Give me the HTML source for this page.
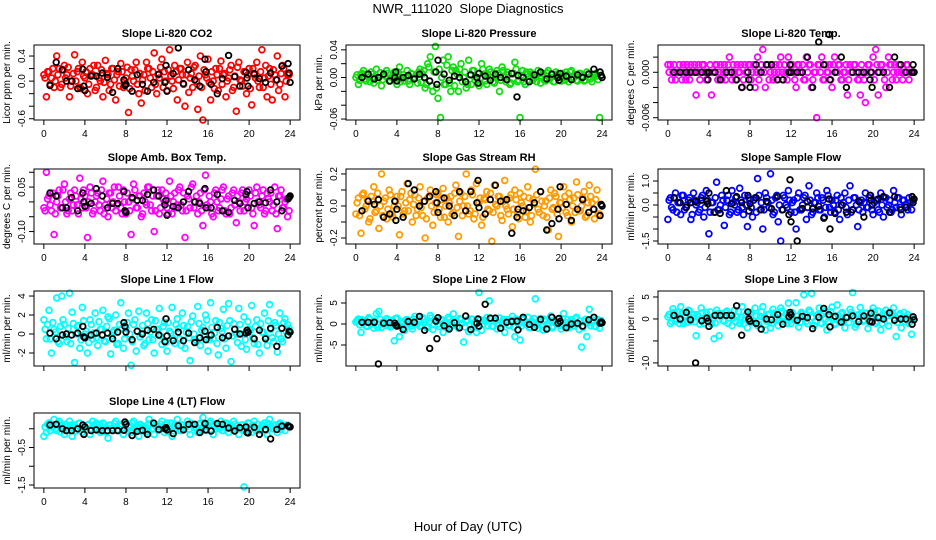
<!DOCTYPE html>
<html><head><meta charset="utf-8"><style>
body{margin:0;background:#fff;}
svg{display:block;font-family:"Liberation Sans",sans-serif;}
</style></head><body>
<svg id="chart" width="936" height="540" viewBox="0 0 936 540">
<rect width="936" height="540" fill="#fff"/>
<text x="468" y="13" text-anchor="middle" font-size="13">NWR_111020&#160; Slope Diagnostics</text>
<text x="468" y="531" text-anchor="middle" font-size="13">Hour of Day (UTC)</text>
</svg>
<script>
const hours=[0,.25,.5,.75,1,1.25,1.5,1.75,2,2.25,2.5,2.75,3,3.25,3.5,3.75,4,4.25,4.5,4.75,5,5.25,5.5,5.75,6,6.25,6.5,6.75,7,7.25,7.5,7.75,8,8.25,8.5,8.75,9,9.25,9.5,9.75,10,10.25,10.5,10.75,11,11.25,11.5,11.75,12,12.25,12.5,12.75,13,13.25,13.5,13.75,14,14.25,14.5,14.75,15,15.25,15.5,15.75,16,16.25,16.5,16.75,17,17.25,17.5,17.75,18,18.25,18.5,18.75,19,19.25,19.5,19.75,20,20.25,20.5,20.75,21,21.25,21.5,21.75,22,22.25,22.5,22.75,23,23.25,23.5,23.75];
const hoursB=[.12,.37,.62,.87,1.12,1.37,1.62,1.87,2.12,2.37,2.62,2.87,3.12,3.37,3.62,3.87,4.12,4.37,4.62,4.87,5.12,5.37,5.62,5.87,6.12,6.37,6.62,6.87,7.12,7.37,7.62,7.87,8.12,8.37,8.62,8.87,9.12,9.37,9.62,9.87,10.12,10.37,10.62,10.87,11.12,11.37,11.62,11.87,12.12,12.37,12.62,12.87,13.12,13.37,13.62,13.87,14.12,14.37,14.62,14.87,15.12,15.37,15.62,15.87,16.12,16.37,16.62,16.87,17.12,17.37,17.62,17.87,18.12,18.37,18.62,18.87,19.12,19.37,19.62,19.87,20.12,20.37,20.62,20.87,21.12,21.37,21.62,21.87,22.12,22.37,22.62,22.87,23.12,23.37,23.62,23.9];
const hoursBlack=[0.6,1.2,1.8,2.2,2.7,3.3,3.8,3.9,4.0,4.6,5.1,5.7,6.2,6.7,7.2,7.8,7.9,8.0,8.6,9.1,9.6,10.1,10.7,11.2,11.8,11.9,12.0,12.6,13.1,13.6,14.1,14.7,15.2,15.7,15.8,16.3,16.9,17.4,18.0,18.6,19.1,19.7,19.8,19.9,20.5,21.0,21.6,22.1,22.7,23.2,23.8,23.9,24.0];
const xTicks=[0,4,8,12,16,20,24];

const co2=[0.1,-0.25,0.15,0.05,-0.1,0.4,0.2,-0.05,0.25,0.1,-0.25,0.0,0.42,0.15,-0.1,0.3,0.05,-0.2,0.2,0.1,-0.15,0.25,0.0,-0.25,0.33,0.1,-0.05,0.2,-0.3,0.15,0.28,-0.1,0.05,-0.5,0.18,0.0,0.3,-0.2,-0.35,0.1,0.3,0.2,-0.1,0.45,-0.2,0.05,0.35,0.15,-0.15,0.5,0.0,0.25,-0.3,0.2,0.1,-0.4,0.3,0.05,-0.1,0.25,-0.45,0.4,-0.62,0.1,0.35,-0.3,0.0,0.2,-0.15,0.32,0.1,-0.25,0.05,0.25,-0.1,-0.48,0.3,0.0,0.15,-0.2,0.2,-0.38,0.1,0.3,-0.1,0.5,0.05,-0.25,0.2,-0.3,0.1,0.4,-0.05,0.25,-0.25,0.1];
const co2More=[0.05,0.15,-0.05,0.2,0.0,0.1,-0.1,0.18,0.05,0.22,-0.08,0.12,0.0,0.2,-0.12,0.08,0.15,-0.05,0.1,0.25,-0.1,0.05,0.18,-0.02,0.12,-0.15,0.2,0.02,0.1,-0.08,0.15,0.0,0.22,-0.12,0.08,0.18,-0.05,0.12,0.02,-0.15,0.2,0.05,0.15,-0.05,0.1,0.22,-0.1,0.0,0.18,0.08,-0.12,0.15,0.02,0.2,-0.05,0.1,-0.18,0.12,0.22,0.0,0.08,-0.1,0.18,0.05,-0.02,0.15,-0.12,0.1,0.2,-0.05,0.12,0.0,0.18,-0.15,0.08,0.22,0.02,-0.08,0.15,0.1,-0.12,0.2,0.05,0.0,0.15,-0.1,0.25,0.08,-0.05,0.18,0.02,-0.15,0.12,0.2,0.0,0.1];
const co2Black=[-0.07,0.3,0.18,0.0,0.0,-0.12,0.19,-0.08,-0.15,0.08,0.08,0.13,0.06,-0.18,0.2,0.02,-0.07,-0.05,-0.16,0.1,-0.05,-0.16,-0.02,0.11,-0.02,0.25,-0.16,0.12,0.53,-0.04,0.18,0.02,-0.08,0.35,0.15,-0.05,-0.2,0.04,0.41,0.07,-0.08,0.14,0.05,-0.08,0.12,0.04,-0.02,0.13,0.02,0.24,0.28,0.13,-0.02];

const pressure=[0.0,-0.01,0.005,0.01,-0.005,0.0,0.008,-0.008,0.012,0.0,-0.012,0.005,0.01,-0.005,0.0,0.008,-0.01,0.015,0.0,-0.005,0.01,-0.01,0.005,0.0,-0.008,0.012,0.005,-0.015,0.02,0.03,-0.02,0.045,-0.03,-0.058,0.025,-0.01,0.03,-0.02,0.015,0.01,-0.02,0.02,0.0,-0.015,0.025,-0.01,0.01,0.0,-0.012,0.02,0.005,-0.01,0.012,0.0,-0.008,0.01,-0.02,0.015,0.0,0.008,-0.01,0.005,0.022,-0.006,-0.058,0.01,-0.01,0.005,0.008,-0.004,0.0,0.01,-0.008,0.006,-0.005,0.01,0.0,-0.006,0.008,0.004,-0.005,0.0,0.008,-0.006,0.01,0.0,-0.004,0.006,0.0,-0.005,0.008,0.0,-0.006,0.005,0.002,-0.058];
const pressureMore=[0.004,-0.004,0.006,-0.002,0.003,-0.006,0.005,0.0,-0.004,0.007,-0.003,0.002,0.006,-0.005,0.003,-0.002,0.008,-0.006,0.004,0.0,-0.005,0.006,-0.002,0.004,0.008,-0.007,0.01,-0.01,0.015,-0.012,0.008,-0.015,0.012,0.0,-0.01,0.018,-0.008,0.01,-0.012,0.005,0.012,-0.006,0.008,-0.01,0.004,0.01,-0.004,0.006,-0.008,0.012,-0.005,0.004,0.008,-0.006,0.002,0.006,-0.004,0.01,-0.006,0.004,-0.008,0.006,0.012,-0.004,0.003,-0.006,0.008,-0.003,0.005,0.0,-0.006,0.006,0.002,-0.004,0.007,-0.002,0.004,-0.006,0.005,0.0,0.006,-0.004,0.003,0.008,-0.003,0.004,-0.005,0.006,0.002,-0.004,0.005,-0.002,0.004,0.006,-0.003,0.003];
const pressureBlack=[0.0,0.005,-0.002,0.0,0.005,-0.005,0.0,0.008,-0.005,0.0,0.003,-0.002,0.005,0.0,-0.005,0.008,-0.01,0.025,0.005,-0.004,0.002,0.0,-0.006,0.004,0.0,-0.008,0.006,0.002,-0.004,0.005,0.0,-0.003,0.006,-0.028,0.003,0.0,-0.006,0.004,0.008,-0.002,0.005,0.0,-0.004,0.006,0.002,-0.003,0.004,0.0,0.005,0.012,0.008,0.003,0.0];

const temp=[0.001,0.001,0.0,-0.001,0.0,0.0,0.001,-0.001,0.0,0.001,0.0,-0.003,0.001,0.0,0.001,-0.001,0.0,-0.003,0.0,0.001,0.0,-0.001,0.001,0.0,0.002,-0.001,0.0,0.001,0.0,-0.002,0.001,0.0,0.001,0.0,-0.002,0.002,0.0,0.003,-0.002,0.001,0.0,-0.001,0.001,0.0,0.002,-0.001,0.0,0.002,0.001,0.0,-0.002,0.001,0.0,-0.001,0.002,0.001,-0.002,0.0,-0.006,0.001,0.002,-0.001,0.0,0.001,-0.002,0.002,0.0,0.001,-0.001,0.0,-0.003,0.001,0.0,0.001,-0.001,-0.003,0.0,-0.004,0.001,0.0,0.002,0.003,-0.003,0.001,0.0,-0.002,0.002,0.001,0.0,-0.001,0.001,0.0,0.0,0.001,-0.001,0.0];
const tempMore=[0.0,-0.001,0.001,0.0,0.001,-0.001,0.0,0.001,-0.001,0.0,0.001,0.0,-0.001,0.001,0.0,-0.001,0.001,0.0,0.001,-0.001,0.001,0.0,-0.001,0.001,0.0,0.001,-0.001,0.0,0.001,-0.001,0.0,0.001,-0.001,0.001,0.0,-0.001,0.001,0.0,0.001,-0.001,0.001,0.0,-0.001,0.001,0.0,0.001,-0.001,0.0,0.001,-0.001,0.001,0.0,0.001,-0.001,0.0,0.001,-0.001,0.0,0.001,0.0,-0.001,0.001,0.0,-0.001,0.001,0.0,0.001,-0.001,0.0,0.001,-0.001,0.0,0.001,0.0,-0.001,0.001,-0.001,0.0,0.001,0.0,-0.001,0.001,0.0,0.001,-0.001,0.0,0.001,-0.001,0.001,0.0,0.001,-0.001,0.0,0.001,0.0,0.0];
const tempBlack=[0,0,0,0,0,0,0,-0.001,0,0,-0.001,0,0,-0.001,-0.002,0,-0.001,-0.002,0.001,0,0.001,0.001,-0.001,-0.001,0,0.001,0,0,0,0.002,-0.002,0.004,0.001,0.005,-0.001,0,0.002,-0.002,0,0,0,-0.001,0,-0.002,0,0,-0.002,0.002,0.001,0,0,0.001,0];

const amb=[-0.02,0.1,0.02,-0.03,-0.11,0.0,0.04,-0.02,0.06,-0.04,0.01,-0.03,0.04,-0.01,0.08,-0.02,0.02,-0.12,0.05,-0.04,0.0,0.03,-0.03,0.07,-0.01,-0.05,0.03,0.0,-0.03,0.05,-0.02,0.04,-0.04,0.0,-0.11,0.06,-0.02,0.02,-0.05,0.03,-0.01,0.05,-0.03,-0.1,0.02,-0.04,0.04,0.0,-0.02,0.07,-0.04,0.03,-0.01,0.05,-0.03,-0.12,0.02,-0.02,0.06,0.0,-0.04,0.03,-0.08,0.09,-0.02,0.0,-0.05,0.04,-0.03,0.01,0.05,-0.04,0.02,-0.02,0.04,-0.07,0.0,0.03,-0.03,0.01,0.04,-0.02,-0.08,0.05,-0.01,0.02,-0.04,0.03,0.0,-0.03,0.05,-0.09,0.02,-0.02,0.0,-0.05];
const ambMore=[-0.03,0.01,-0.01,0.03,-0.04,0.02,-0.02,0.04,0.0,-0.03,0.03,-0.01,0.02,-0.04,0.01,0.04,-0.02,0.0,0.03,-0.03,0.02,-0.01,0.04,-0.04,0.01,0.03,-0.02,0.05,-0.01,0.02,-0.04,0.0,0.03,-0.03,0.01,0.04,-0.02,0.02,-0.04,0.0,0.05,-0.01,0.02,-0.03,0.04,-0.02,0.01,0.03,-0.04,0.02,0.0,-0.02,0.04,-0.01,0.03,-0.03,0.01,0.05,-0.02,0.02,0.0,-0.03,0.04,-0.01,0.02,-0.04,0.03,0.0,-0.02,0.04,-0.03,0.01,-0.04,0.03,-0.01,0.02,-0.03,0.04,0.0,-0.02,0.02,-0.04,0.03,0.0,-0.02,0.04,-0.03,0.01,0.03,-0.01,-0.04,0.02,0.04,-0.02,0.01,-0.03];
const ambBlack=[0.03,0.02,-0.02,-0.02,0.015,-0.03,0.03,0.0,-0.015,-0.005,0.045,0.02,-0.02,-0.005,-0.005,0.035,-0.03,-0.035,0.015,0.005,0.005,0.025,0.04,0.02,-0.01,0.005,-0.045,-0.015,-0.02,0.0,0.035,0.0,-0.005,0.045,-0.02,-0.02,0.025,-0.03,-0.035,0.005,-0.005,0.025,0.035,-0.02,-0.005,0.0,-0.003,0.04,0.0,-0.03,0.01,0.015,0.02];

const rh=[-0.05,0.05,-0.17,0.08,0.0,-0.1,0.06,0.12,-0.03,-0.14,0.2,0.03,-0.08,0.1,-0.05,0.0,0.06,-0.18,0.09,-0.03,0.14,0.04,-0.1,0.07,-0.02,0.12,-0.06,-0.2,0.05,0.1,-0.12,0.02,0.08,-0.07,0.11,0.0,-0.1,0.06,-0.04,0.13,-0.19,0.08,0.0,0.2,-0.05,0.1,-0.08,0.14,0.02,-0.12,0.05,0.09,-0.03,-0.22,0.13,0.0,0.06,-0.09,0.16,-0.02,0.05,-0.13,0.1,-0.04,0.08,0.0,-0.07,0.12,-0.1,0.04,0.23,-0.02,0.09,-0.06,0.03,-0.15,0.1,-0.01,0.06,-0.19,0.02,0.12,-0.04,0.08,-0.1,0.05,0.15,-0.03,0.0,0.09,-0.06,0.13,0.02,-0.08,0.1,-0.05];
const rhMore=[0.02,-0.06,0.07,-0.02,0.04,-0.08,0.03,-0.04,0.08,0.0,-0.06,0.05,-0.02,0.07,-0.07,0.03,0.0,0.06,-0.05,0.02,-0.03,0.08,0.01,-0.06,0.05,-0.01,0.03,-0.08,0.06,0.0,-0.04,0.07,-0.02,0.04,-0.07,0.05,0.02,-0.05,0.08,-0.01,0.03,-0.06,0.06,0.0,-0.03,0.07,-0.05,0.02,0.05,-0.07,0.04,-0.02,0.08,-0.04,0.01,0.06,-0.06,0.03,0.0,-0.05,0.07,-0.02,0.04,-0.08,0.02,0.06,-0.03,0.05,-0.06,0.01,0.07,-0.04,0.03,0.0,-0.07,0.05,-0.02,0.08,-0.05,0.02,-0.01,0.06,-0.06,0.04,0.0,-0.04,0.07,-0.03,0.05,-0.07,0.02,0.06,-0.02,0.04,-0.05,0.01];
const rhBlack=[-0.03,0.03,0.01,0.04,-0.07,-0.05,0.03,-0.09,-0.02,-0.07,0.14,0.1,0.0,0.03,0.06,0.09,0.02,-0.04,0.05,0.0,-0.06,0.09,-0.03,0.09,0.02,0.16,-0.01,-0.05,0.04,0.13,0.03,0.04,-0.17,-0.07,-0.02,-0.03,-0.01,0.02,0.09,-0.15,-0.11,-0.02,-0.08,0.12,0.01,-0.09,-0.02,0.04,-0.04,-0.02,-0.06,0.01,0.0];

const sample=[-0.6,0.3,-0.2,0.5,0.1,-0.4,0.4,-0.1,0.2,-0.6,0.5,0.0,-0.3,0.3,-0.5,0.6,-1.2,0.1,-0.3,0.95,-0.2,0.4,-0.85,0.2,-0.4,0.6,0.0,-0.3,0.7,-0.1,0.4,-0.9,0.2,-0.5,0.3,1.1,-0.2,-1.0,0.5,0.1,1.3,-0.4,0.3,-0.7,-1.5,0.4,0.0,0.6,-0.3,0.2,-1.0,0.5,-0.2,0.3,-0.6,0.8,-0.4,0.1,0.5,-0.2,0.3,-0.5,0.6,-0.1,0.2,-0.3,0.4,-0.6,0.0,0.5,-0.4,0.8,-0.2,0.3,-0.9,0.1,-0.3,0.5,-0.1,0.4,-0.4,0.2,-0.2,0.5,-0.5,0.3,0.0,-0.3,0.6,-0.1,0.3,-0.4,0.2,0.0,0.3,-0.2];
const sampleMore=[0.2,-0.1,0.3,-0.3,0.1,0.4,-0.2,0.0,0.3,-0.4,0.2,0.1,-0.2,0.4,-0.1,0.2,-0.3,0.1,0.3,-0.2,0.0,0.2,-0.1,0.4,-0.3,0.1,0.3,-0.2,0.2,-0.4,0.0,0.3,-0.1,0.2,-0.3,0.4,0.1,-0.2,0.3,-0.1,0.2,-0.3,0.4,0.0,-0.2,0.3,-0.1,0.2,0.1,-0.3,0.3,-0.2,0.0,0.4,-0.1,0.2,-0.3,0.1,0.3,-0.2,0.2,-0.1,0.4,-0.3,0.0,0.2,-0.2,0.3,0.1,-0.1,0.2,-0.3,0.3,0.0,-0.2,0.2,0.1,-0.1,0.3,-0.2,0.1,0.2,-0.3,0.0,0.3,-0.1,0.2,-0.2,0.1,0.3,-0.1,0.2,0.0,-0.2,0.1,0.2];
const sampleBlack=[0.3,0.1,-0.1,0.1,0.15,0.2,0.15,0.05,0.5,-0.3,-0.35,0.6,0.05,0.35,0.1,0.4,-0.25,0.05,0.3,-0.2,0.15,-0.15,0.35,-0.2,-0.4,1.05,-0.7,-1.5,-0.15,0.15,-0.15,-0.05,-0.55,0.25,-1.0,-0.35,0.0,-0.3,-0.2,0.15,-0.5,0.4,0.2,0.0,0.25,0.35,-0.3,0.35,-0.2,-0.1,0.35,0.1,0.25];

const line1=[1.5,-0.5,2.5,-2.0,0.5,3.8,-1.0,4.0,1.0,-0.8,4.3,2.3,-3.0,0.8,-1.5,2.8,0.0,-2.0,1.5,-0.5,2.2,-1.2,0.5,2.5,-0.8,1.8,-2.1,0.2,2.0,-1.0,3.3,-1.5,0.6,2.2,-3.3,1.0,-1.8,2.4,0.0,-1.2,2.2,-0.6,1.5,-2.0,0.5,2.7,-1.1,1.2,-1.8,0.3,2.8,-1.0,1.6,-0.5,2.2,-1.5,0.8,-2.8,1.9,-0.6,2.9,-1.2,0.7,2.0,-1.8,3.3,-0.5,1.4,-2.2,0.6,2.6,-1.5,3.2,-2.9,1.1,0.0,2.7,-1.3,1.8,-1.6,0.5,3.0,-1.0,1.5,-2.0,0.2,2.2,-1.2,3.1,-0.4,1.2,-1.9,2.2,-0.8,1.6,1.0];
const line1More=[0.5,1.0,-0.5,1.2,0.2,-0.8,0.8,1.5,-0.3,0.6,-1.0,1.1,0.0,0.9,-0.6,1.4,0.3,-0.9,1.0,0.1,-0.4,1.3,0.5,-0.7,0.8,1.6,-0.2,0.4,-1.1,1.0,0.6,-0.5,1.2,0.0,-0.8,1.5,0.3,-0.3,0.9,-1.0,1.1,0.2,-0.6,1.4,0.5,-0.2,0.8,-0.9,1.2,0.1,-0.5,1.0,0.6,-1.2,0.9,0.2,-0.4,1.3,0.0,-0.8,1.1,0.4,-0.3,1.5,-0.6,0.7,0.1,-1.0,1.2,0.3,-0.5,0.9,1.4,-0.2,0.5,-0.9,1.0,0.0,-0.6,1.3,0.4,-0.4,0.8,-1.1,1.1,0.2,-0.3,1.4,0.5,-0.8,0.9,0.0,-0.5,1.2,0.3,0.6];
const line1Black=[0.1,-0.5,-0.1,0.0,-0.1,0.1,0.8,-0.3,-0.4,-0.1,0.1,-0.1,0.1,-0.5,0.2,1.2,0.8,0.2,-0.6,0.3,0.0,0.4,0.5,-0.1,-0.8,1.6,-0.2,-0.7,0.2,-0.7,0.1,-0.9,-0.4,0.3,-0.6,-0.1,0.7,-0.4,-0.2,0.5,0.0,0.1,0.4,0.2,-0.5,0.4,-0.5,0.6,-1.3,0.6,-0.1,0.3,0.2];

const line2=[0.5,1.2,-2.0,0.8,-0.5,1.5,0.3,-1.0,2.5,3.0,-0.8,0.6,1.3,-0.3,0.9,-4.0,1.4,-3.0,0.2,-1.5,1.0,0.4,-1.2,1.8,0.0,-0.6,1.5,0.5,-0.9,2.0,-1.3,0.8,0.0,1.2,-2.0,0.5,1.6,-0.7,2.4,0.3,-1.0,1.1,-4.3,0.6,-1.8,1.2,0.2,-2.0,7.5,-1.5,0.9,1.5,5.5,-0.5,0.7,-1.2,1.4,0.0,-2.0,1.0,-0.3,1.8,-3.0,0.5,-3.8,1.2,0.0,1.6,-0.8,0.4,6.0,-1.0,1.3,-1.4,0.8,0.2,1.9,-0.6,0.5,1.2,-1.2,2.5,0.3,-0.9,1.0,-0.4,1.6,-1.3,-5.5,0.6,-3.0,3.5,0.9,-0.5,1.1,-1.0];
const line2More=[0.8,-0.2,1.0,0.3,-0.6,1.2,0.0,0.7,-0.8,1.1,0.4,-0.3,0.9,-0.7,0.5,1.3,-0.1,0.6,-0.9,1.0,0.2,-0.5,1.2,0.0,0.8,-0.4,1.1,-0.8,0.5,1.4,-0.2,0.7,-0.6,1.0,0.3,-0.9,1.2,0.0,0.6,-0.5,1.3,0.2,-0.7,0.9,-0.2,1.1,0.4,-0.8,1.0,0.0,0.6,-0.4,1.3,-0.6,0.8,0.2,-0.9,1.1,0.5,-0.3,0.9,-0.7,1.2,0.1,-0.5,1.0,0.4,-0.8,0.7,1.3,-0.2,0.5,-0.6,1.1,0.0,0.8,-0.9,0.6,1.2,-0.3,0.4,-0.7,1.0,0.2,-0.5,1.3,0.0,0.7,-0.8,1.1,0.3,-0.4,0.9,-0.6,0.5,0.8];
const line2Black=[0.4,0.4,0.4,-9.5,0.2,0.3,0.2,-0.3,-0.5,-1.3,0.6,0.4,1.8,-1.5,-5.8,0.7,-3.5,1.5,-0.4,-1.2,0.3,-0.9,1.9,-1.3,0.2,1.2,-0.5,4.7,1.4,1.4,-1.0,0.4,0.6,0.7,-1.4,1.6,-0.1,-0.8,1.1,-1.2,1.6,0.2,1.3,0.6,-0.9,0.0,0.2,-0.5,1.0,1.6,0.2,0.5,0.3];

const line3=[0.5,-1.0,2.3,-0.5,1.5,2.8,-1.0,0.8,2.0,-0.5,1.0,-3.8,0.5,2.5,-1.0,1.5,0.0,-1.2,-4.5,2.0,-3.8,1.2,-0.5,1.8,0.2,-1.5,2.0,0.5,-1.0,2.8,0.0,-2.0,1.5,-0.8,2.5,-1.5,0.6,2.8,-2.5,1.0,-2.0,2.2,0.5,-1.5,2.5,-0.6,1.2,3.6,-1.0,0.0,3.7,-1.8,1.5,5.5,-0.5,2.0,5.8,-1.5,0.8,2.5,-1.0,1.8,-2.5,0.5,2.7,-1.3,3.2,-0.8,1.5,-2.0,0.3,2.2,6.0,-1.8,0.9,2.6,-0.5,1.3,-2.2,0.4,2.5,-1.0,1.8,-2.5,0.6,2.0,-1.6,1.0,2.5,-4.0,0.8,-2.0,1.5,0.0,-1.0,-3.5];
const line3More=[1.0,-0.5,1.5,0.0,-1.0,1.2,0.5,-0.8,1.8,0.2,-0.6,1.0,-1.2,1.4,0.3,-0.4,1.6,0.0,-0.9,1.2,0.6,-0.3,1.5,-1.0,0.8,0.2,-0.7,1.7,0.4,-1.1,1.0,0.0,1.4,-0.6,0.7,-1.2,1.6,0.3,-0.5,1.1,-0.9,1.3,0.1,-0.4,1.8,0.5,-1.0,0.9,1.5,-0.3,0.6,-0.8,1.2,0.2,-1.1,1.6,0.4,-0.5,1.0,-0.9,1.4,0.0,-0.6,1.7,0.3,-1.0,0.8,1.2,-0.4,0.5,-0.8,1.5,0.1,-1.2,1.0,0.6,-0.3,1.3,-0.7,0.4,1.6,-0.5,0.2,-1.0,1.1,0.7,-0.4,1.4,0.0,-0.8,1.2,0.3,-0.6,1.0,0.5,0.2];
const line3Black=[0.8,0.0,1.5,-0.2,-10.0,-0.4,0.2,-0.5,-1.7,0.8,0.8,0.8,0.8,3.0,-3.7,1.6,0.0,-0.5,-1.0,-2.3,0.0,-0.2,1.0,-1.2,0.5,1.5,1.0,-0.3,0.6,0.3,-2.2,0.4,2.4,1.0,-1.8,0.6,-0.7,0.3,0.7,-0.6,0.7,-0.5,1.3,-0.7,0.3,0.0,1.4,-0.3,0.0,0.0,-1.2,0.5,-0.2];

const line4=[-0.2,-0.1,0.15,0.05,0.25,-0.05,0.2,0.1,-0.15,0.05,0.2,-0.2,0.1,0.0,0.15,-0.1,0.05,0.1,-0.15,0.2,0.0,0.1,-0.1,0.15,0.05,-0.25,0.1,0.0,0.2,-0.05,0.1,-0.15,0.15,0.05,-0.1,0.2,0.0,-0.2,0.1,0.05,-0.1,0.25,0.0,-0.15,0.1,0.05,0.2,-0.1,0.15,0.0,-0.2,0.1,0.25,-0.05,0.1,0.0,0.2,-0.15,0.1,0.05,-0.1,0.15,0.3,-0.05,0.1,0.2,-0.15,0.0,0.1,0.2,-0.05,0.15,-0.1,0.05,0.2,0.0,-0.15,0.1,-1.55,0.05,0.15,-0.1,0.2,0.0,-0.05,0.1,0.15,-0.15,0.25,0.0,0.1,-0.1,0.15,0.05,-0.05,0.1];
const line4More=[0.05,0.12,-0.05,0.1,0.0,0.15,-0.08,0.08,0.12,-0.02,0.1,0.04,-0.06,0.14,0.02,0.08,-0.04,0.12,0.0,0.1,0.15,-0.05,0.06,0.12,-0.08,0.1,0.02,0.14,-0.03,0.08,0.12,0.0,-0.06,0.1,0.15,0.04,-0.02,0.12,0.06,-0.08,0.1,0.14,0.0,0.08,-0.05,0.12,0.03,0.1,-0.07,0.15,0.05,0.0,0.12,-0.04,0.1,0.08,-0.02,0.14,0.04,0.0,0.12,-0.06,0.1,0.06,0.15,-0.03,0.08,0.12,0.0,-0.05,0.1,0.14,0.04,-0.02,0.12,0.08,0.0,0.1,-0.06,0.15,0.05,0.1,-0.03,0.12,0.02,0.08,-0.05,0.14,0.06,0.0,0.1,0.12,-0.02,0.08,0.1,0.05];
const line4Black=[0.1,0.12,0.0,-0.05,-0.05,0.0,0.1,-0.15,0.05,-0.05,-0.03,-0.05,-0.05,-0.05,-0.05,-0.04,0.18,0.12,-0.18,-0.07,-0.04,-0.15,0.15,-0.02,0.0,0.03,-0.03,-0.13,0.08,-0.03,0.12,0.12,-0.1,0.14,-0.03,-0.06,0.14,0.12,0.02,-0.06,0.03,0.05,-0.1,-0.11,0.04,-0.15,-0.02,-0.27,-0.02,0.07,0.08,0.06,0.05];

const panels=[
 {name:'co2',title:'Slope Li-820 CO2',ylab:'Licor ppm per min.',col:0,row:0,y0:-0.62,y1:0.576,ticks:[-0.6,-0.4,-0.2,0,0.2,0.4],labels:['-0.6','','','0.0','','0.4'],color:'#ff0000',data:co2,more:co2More,black:co2Black,xl:true},
 {name:'pressure',title:'Slope Li-820 Pressure',ylab:'kPa per min.',col:1,row:0,y0:-0.0614,y1:0.047,ticks:[-0.06,-0.04,-0.02,0,0.02,0.04],labels:['-0.06','','','0.00','','0.04'],color:'#11dd11',data:pressure,more:pressureMore,black:pressureBlack,xl:true},
 {name:'li820-temp',title:'Slope Li-820 Temp.',ylab:'degrees C per min.',col:2,row:0,y0:-0.0063,y1:0.0036,ticks:[-0.006,-0.004,-0.002,0,0.002],labels:['-0.006','','','0.000',''],color:'#ff00ff',data:temp,more:tempMore,black:tempBlack,xl:true},
 {name:'amb-box-temp',title:'Slope Amb. Box Temp.',ylab:'degrees C per min.',col:0,row:1,y0:-0.142,y1:0.111,ticks:[-0.1,-0.05,0,0.05,0.1],labels:['-0.10','','','0.05',''],color:'#ff00ff',data:amb,more:ambMore,black:ambBlack,xl:true},
 {name:'gas-stream-rh',title:'Slope Gas Stream RH',ylab:'percent per min.',col:1,row:1,y0:-0.2375,y1:0.231,ticks:[-0.2,-0.1,0,0.1,0.2],labels:['-0.2','','0.0','','0.2'],color:'#ff9a00',data:rh,more:rhMore,black:rhBlack,xl:true},
 {name:'sample-flow',title:'Slope Sample Flow',ylab:'ml/min per min.',col:2,row:1,y0:-1.625,y1:1.5,ticks:[-1.5,-1,-0.5,0,0.5,1],labels:['-1.5','','','0.0','','1.0'],color:'#0000ff',data:sample,more:sampleMore,black:sampleBlack,xl:true},
 {name:'line1-flow',title:'Slope Line 1 Flow',ylab:'ml/min per min.',col:0,row:2,y0:-3.37,y1:4.53,ticks:[-2,0,2,4],labels:['-2','0','2','4'],color:'#00ffff',data:line1,more:line1More,black:line1Black,xl:false},
 {name:'line2-flow',title:'Slope Line 2 Flow',ylab:'ml/min per min.',col:1,row:2,y0:-10,y1:7.86,ticks:[-5,0,5],labels:['-5','0','5'],color:'#00ffff',data:line2,more:line2More,black:line2Black,xl:false},
 {name:'line3-flow',title:'Slope Line 3 Flow',ylab:'ml/min per min.',col:2,row:2,y0:-10.7,y1:6.36,ticks:[-10,-5,0,5],labels:['-10','','0','5'],color:'#00ffff',data:line3,more:line3More,black:line3Black,xl:false},
 {name:'line4-flow',title:'Slope Line 4 (LT) Flow',ylab:'ml/min per min.',col:0,row:3,y0:-1.58,y1:0.42,ticks:[-1.5,-1,-0.5,0],labels:['-1.5','','-0.5',''],color:'#00ffff',data:line4,more:line4More,black:line4Black,xl:true}
];
const colLeft=[34,346,658], rowTop=[45,169,291,413], PW=266, PH=75;
const NS='http://www.w3.org/2000/svg';
const svg=document.getElementById('chart');
function mk(tag,attrs,parent){const e=document.createElementNS(NS,tag);for(const k in attrs)e.setAttribute(k,attrs[k]);parent.appendChild(e);return e;}

panels.forEach(p=>{
  const L=colLeft[p.col],T=rowTop[p.row],B=T+PH;
  const xs=v=>L+(v+0.96)/25.92*PW;
  const ys=v=>B-(v-p.y0)/(p.y1-p.y0)*PH;
  const g=mk('g',{},svg);
  
  
  const t=mk('text',{x:L+PW/2,y:T-8,'text-anchor':'middle','font-size':'11','font-weight':'bold'},g);
  t.textContent=p.title;
  
  
  const pts=mk('g',{fill:'none',stroke:p.color,'stroke-width':'1.8'},g);
  
  
  const n=Math.min(hours.length,p.data.length);
  for(let i=0;i<n;i++){
    const c=mk('circle',{cx:xs(hours[i]).toFixed(1),cy:ys(p.data[i]).toFixed(1),r:'2.9'},pts);
    
    
  }
  const n2=Math.min(hoursB.length,p.more.length);
  for(let i=0;i<n2;i++){
    const c=mk('circle',{cx:xs(hoursB[i]).toFixed(1),cy:ys(p.more[i]).toFixed(1),r:'2.9'},pts);
    
    
  }
  const bk=mk('g',{fill:'none',stroke:'#000','stroke-width':'1.8'},g);
  
  
  const m=Math.min(hoursBlack.length,p.black.length);
  for(let i=0;i<m;i++){
    const c=mk('circle',{cx:xs(hoursBlack[i]).toFixed(1),cy:ys(p.black[i]).toFixed(1),r:'2.8'},bk);
    
    
  }
  const box=mk('rect',{x:L,y:T,width:PW,height:PH,fill:'none',stroke:'#000','stroke-width':'1'},g);
  
  
  const xa=mk('g',{stroke:'#000','stroke-width':'1'},g);
  
  
  mk('line',{x1:xs(xTicks[0]),x2:xs(xTicks[xTicks.length-1]),y1:B,y2:B},xa);
  xTicks.forEach(v=>{
    mk('line',{x1:xs(v),x2:xs(v),y1:B,y2:B+5},xa);
    if(p.xl){
      const tl=mk('text',{x:xs(v),y:B+17,'text-anchor':'middle','font-size':'10',stroke:'none'},xa);
      tl.textContent=v;
      
      
    }
  });
  const ya=mk('g',{stroke:'#000','stroke-width':'1'},g);
  
  
  mk('line',{x1:L,x2:L,y1:ys(p.ticks[0]),y2:ys(p.ticks[p.ticks.length-1])},ya);
  p.ticks.forEach((v,i)=>{
    const y=ys(v);
    mk('line',{x1:L-5,x2:L,y1:y,y2:y},ya);
    if(p.labels[i]){
      const tl=mk('text',{x:0,y:0,transform:`translate(${L-9},${y}) rotate(-90)`,'text-anchor':'middle','font-size':'10',stroke:'none'},ya);
      tl.textContent=p.labels[i];
      
      
    }
  });
  const yl=mk('text',{x:0,y:0,transform:`translate(${L-24},${T+PH/2}) rotate(-90)`,'text-anchor':'middle','font-size':'10'},g);
  yl.textContent=p.ylab;
  
  
});
</script>
</body></html>
